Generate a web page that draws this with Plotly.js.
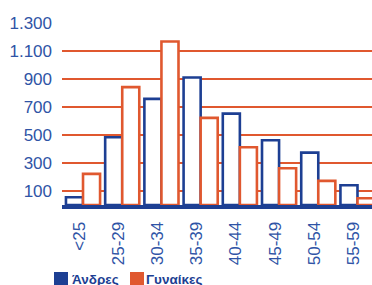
<!DOCTYPE html>
<html><head><meta charset="utf-8">
<script src="https://cdn.plot.ly/plotly-3.0.1.min.js"></script>
<style>html,body{margin:0;padding:0;background:#fff}#c{width:372px;height:285px}</style>
</head><body><div id="c"></div>
<script>
var categories = ['<25','25-29','30-34','35-39','40-44','45-49','50-54','55-59'];
var men   = [55, 484, 758, 911, 653, 463, 374, 141];
var women = [222, 842, 1168, 622, 412, 262, 172, 48];
var yTicks = [100, 300, 500, 700, 900, 1100, 1300];
var seriesNames = ['Άνδρες', 'Γυναίκες'];

var BLUE = '#1d3f93', ORANGE = '#e0582f', TXT = '#2f54a6';
var FONT = '"Liberation Sans", Arial, sans-serif';
var seriesColors = [BLUE, ORANGE];

var traces = [
  {type:'bar', x:categories, y:men, name:seriesNames[0], showlegend:false, offsetgroup:'m',
   marker:{color:'#ffffff', line:{color:BLUE, width:2.6}}, hoverinfo:'none'},
  {type:'bar', x:categories, y:women, name:seriesNames[1], showlegend:false, offsetgroup:'w',
   marker:{color:'#ffffff', line:{color:ORANGE, width:2.6}}, hoverinfo:'none'}
];

// manual legend (solid swatches + labels), positioned in paper coordinates
var PLOT_L = 62, PLOT_W = 310, PLOT_B = 205, PLOT_H = 182;
function px(x){ return (x - PLOT_L) / PLOT_W; }
function py(y){ return (PLOT_B - y) / PLOT_H; }
var swatchX = [54, 130], textX = [71, 145];
var shapes = [], annotations = [];
for (var i = 0; i < seriesNames.length; i++) {
  shapes.push({type:'rect', xref:'paper', yref:'paper', x0:px(swatchX[i]), x1:px(swatchX[i] + 14),
               y0:py(285), y1:py(272), fillcolor:seriesColors[i], line:{width:0}});
  annotations.push({xref:'paper', yref:'paper', x:px(textX[i]), y:py(279), xanchor:'left', yanchor:'middle',
                    text:seriesNames[i], showarrow:false, borderpad:0,
                    font:{family:FONT, size:13.5, color:BLUE, weight:'bold'}});
}

var layout = {
  width:372, height:285,
  margin:{l:62, r:0, t:23, b:80, autoexpand:false},
  paper_bgcolor:'#fff', plot_bgcolor:'#fff',
  separators:',.',
  barmode:'group', bargap:0.13, bargroupgap:0,
  showlegend:false,
  shapes:shapes, annotations:annotations,
  xaxis:{type:'category', range:[-0.536, 7.37], showgrid:false, zeroline:false,
         showline:true, linecolor:BLUE, linewidth:4, automargin:false,
         ticks:'', tickangle:-90, ticklabelshift:-4, ticklabelstandoff:6,
         tickfont:{family:FONT, size:17, color:TXT}},
  yaxis:{range:[0,1300], tickvals:yTicks, tickformat:',d', showgrid:true, automargin:false,
         gridcolor:ORANGE, gridwidth:1.5, zeroline:false, showline:false,
         ticks:'', ticklabelstandoff:9,
         tickfont:{family:FONT, size:17, color:TXT}}
};

Plotly.newPlot('c', traces, layout, {displayModeBar:false, staticPlot:true});
</script></body></html>
